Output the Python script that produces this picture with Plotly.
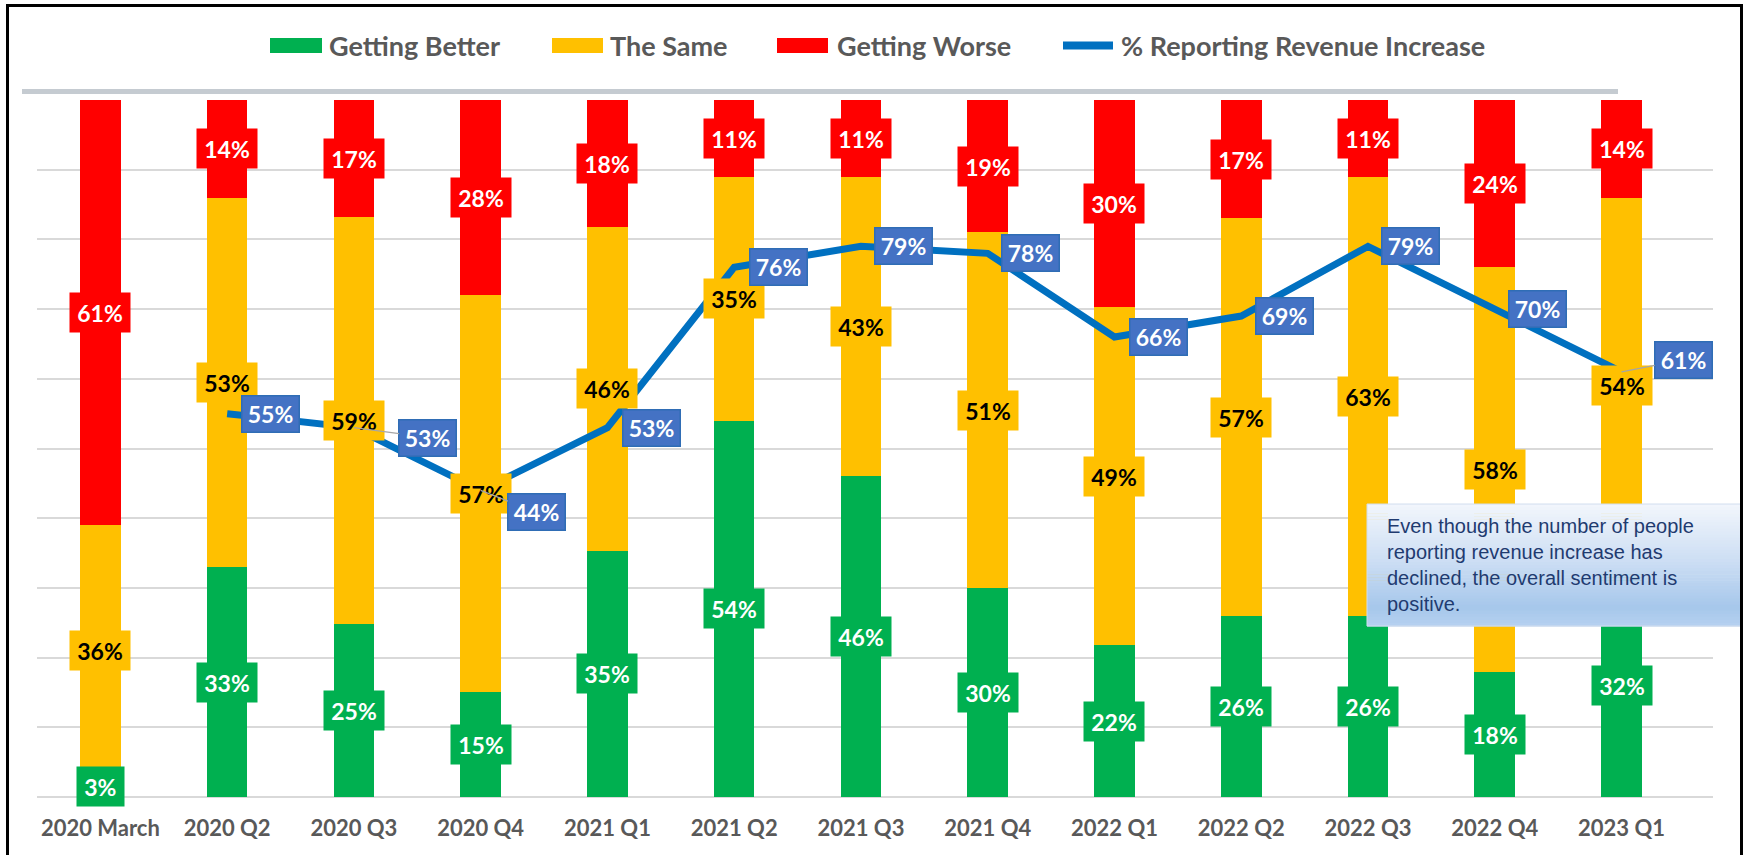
import plotly.graph_objects as go

# ---------------- data ----------------
categories = ["2020 March", "2020 Q2", "2020 Q3", "2020 Q4", "2021 Q1", "2021 Q2",
              "2021 Q3", "2021 Q4", "2022 Q1", "2022 Q2", "2022 Q3", "2022 Q4", "2023 Q1"]
getting_better = [3, 33, 25, 15, 35, 54, 46, 30, 22, 26, 26, 18, 32]
the_same = [36, 53, 59, 57, 46, 35, 43, 51, 49, 57, 63, 58, 54]
getting_worse = [61, 14, 17, 28, 18, 11, 11, 19, 30, 17, 11, 24, 14]
revenue_increase = [None, 55, 53, 44, 53, 76, 79, 78, 66, 69, 79, 70, 61]

series_names = ["Getting Better", "The Same", "Getting Worse"]
line_name = "% Reporting Revenue Increase"
note_text = ("Even though the number of people<br>reporting revenue increase has<br>"
             "declined, the overall sentiment is<br>positive.")

# ---------------- style / layout ----------------
W, H = 1750, 855
ML, MR, MT, MB = 37, 37, 100, 58
PW, PH = W - ML - MR, H - MT - MB

GREEN, YELLOW, RED = "#00B050", "#FFC000", "#FF0000"
LINE_BLUE, LABEL_BLUE = "#0070C0", "#4472C4"
GREY_TXT = "#595959"
FONT = "Lato"
LBL_SIZE = 23

# pixel offsets of the line data labels (layout only)
lbl_dx = [0, 43, 74, 56, 44, 44, 43, 43, 44, 43, 43, 43, 62]
lbl_dy = [0, 0, 10, 22, 0, 0, 0, 0, 0, 0, 0, 0, -12]
lbl_leader = [False, False, True, True, False, False, False, False, False, False, False, False, True]


def px2x(px):
    return (px - ML) / PW


def px2y(py):
    return (H - MB - py) / PH


fig = go.Figure()
colors = [GREEN, YELLOW, RED]
for name, vals, col in zip(series_names, [getting_better, the_same, getting_worse], colors):
    fig.add_trace(go.Bar(x=categories, y=vals, name=name, marker=dict(color=col, line=dict(width=0)),
                         width=0.32, showlegend=False))

fig.add_trace(go.Scatter(x=categories, y=revenue_increase, mode="lines", name=line_name,
                         line=dict(color=LINE_BLUE, width=7), showlegend=False))

annotations = []
# bar segment labels (normalised, as in a 100% stacked chart)
txt_colors = ["white", "black", "white"]
for i, cat in enumerate(categories):
    segs = [getting_better[i], the_same[i], getting_worse[i]]
    tot = sum(segs)
    base = 0.0
    for k, v in enumerate(segs):
        h = v / tot * 100
        mid = base + h / 2
        base += h
        nd = len(str(v))
        annotations.append(dict(
            x=cat, y=mid, xref="x", yref="y", text=f"{v}%", showarrow=False,
            font=dict(family=FONT, size=LBL_SIZE, color=txt_colors[k], weight=700),
            bgcolor=colors[k], borderpad=5, width=LBL_SIZE * (0.58 * nd + 0.82) + 4.5, height=29,
            align="center"))

# line labels
for i, cat in enumerate(categories):
    v = revenue_increase[i]
    if v is None:
        continue
    common = dict(x=cat, y=v, xref="x", yref="y", text=f"{v}%",
                  font=dict(family=FONT, size=LBL_SIZE, color="white", weight=700),
                  bgcolor=LABEL_BLUE, bordercolor="#2F6DB5", borderwidth=1.5, borderpad=4,
                  width=48, height=27, align="center")
    if lbl_leader[i]:
        annotations.append(dict(**common, showarrow=True, arrowhead=0, arrowwidth=1.3,
                                arrowcolor="#A6A6A6", ax=lbl_dx[i], ay=lbl_dy[i]))
    else:
        annotations.append(dict(**common, showarrow=False, xshift=lbl_dx[i], yshift=-lbl_dy[i]))

shapes = []
# custom legend
legend_items = [(series_names[0], GREEN, 270, 322, 327),
                (series_names[1], YELLOW, 552, 603, 608),
                (series_names[2], RED, 777, 828, 835)]
for name, col, x0, x1, tx in legend_items:
    shapes.append(dict(type="rect", xref="paper", yref="paper", x0=px2x(x0), x1=px2x(x1),
                       y0=px2y(53), y1=px2y(38), fillcolor=col, line=dict(width=0)))
    annotations.append(dict(x=px2x(tx), y=px2y(45), xref="paper", yref="paper", text=name,
                            showarrow=False, xanchor="left", yanchor="middle",
                            font=dict(family=FONT, size=27, color=GREY_TXT, weight=700)))
shapes.append(dict(type="line", xref="paper", yref="paper", x0=px2x(1063), x1=px2x(1113),
                   y0=px2y(45.5), y1=px2y(45.5), line=dict(color=LINE_BLUE, width=8)))
annotations.append(dict(x=px2x(1119), y=px2y(45), xref="paper", yref="paper", text=line_name,
                        showarrow=False, xanchor="left", yanchor="middle",
                        font=dict(family=FONT, size=27, color=GREY_TXT, weight=700)))

# grey rule under the legend
shapes.append(dict(type="line", xref="paper", yref="paper", x0=px2x(22), x1=px2x(1618),
                   y0=px2y(91.5), y1=px2y(91.5), line=dict(color="#C5CBD1", width=5)))

# gradient note box
bx0, bx1, by0, by1 = 1367, 1742, 504, 626
stops = [(0.0, (242, 246, 252)), (0.45, (206, 223, 244)), (0.85, (166, 199, 235)), (1.0, (182, 209, 240))]


def grad(t):
    for (t0, c0), (t1, c1) in zip(stops[:-1], stops[1:]):
        if t0 <= t <= t1:
            f = (t - t0) / (t1 - t0)
            return "rgb(%d,%d,%d)" % tuple(round(a + (b - a) * f) for a, b in zip(c0, c1))
    return "rgb(%d,%d,%d)" % stops[-1][1]


nb = 40
for j in range(nb):
    ya = by0 + (by1 - by0) * j / nb
    yb = by0 + (by1 - by0) * (j + 1) / nb + 0.6
    shapes.append(dict(type="rect", xref="paper", yref="paper", x0=px2x(bx0), x1=px2x(bx1),
                       y0=px2y(yb), y1=px2y(ya), fillcolor=grad((j + 0.5) / nb),
                       line=dict(width=0), layer="above"))
shapes.append(dict(type="rect", xref="paper", yref="paper", x0=px2x(bx0), x1=px2x(bx1),
                   y0=px2y(by1), y1=px2y(by0), line=dict(color="#D2DEEE", width=1), layer="above"))
annotations.append(dict(x=px2x(1385), y=px2y(565), xref="paper", yref="paper", text=note_text,
                        showarrow=False, xanchor="left", yanchor="middle", align="left",
                        font=dict(family="Liberation Sans, Arial", size=20, color="#1F3B70")))

# outer frame
shapes.append(dict(type="rect", xref="paper", yref="paper", x0=px2x(7.5), x1=px2x(1741.5),
                   y0=px2y(900), y1=px2y(5.5), line=dict(color="black", width=3), layer="above"))

fig.update_layout(
    width=W, height=H, margin=dict(l=ML, r=MR, t=MT, b=MB),
    barmode="stack", barnorm="percent",
    plot_bgcolor="white", paper_bgcolor="white", showlegend=False,
    annotations=annotations, shapes=shapes,
    xaxis=dict(type="category", showgrid=False, showline=False, ticks="",
               tickfont=dict(family=FONT, size=22, color=GREY_TXT, weight=700),
               ticklabelstandoff=16),
    yaxis=dict(range=[0, 100], dtick=10, showticklabels=False, showgrid=True,
               gridcolor="#D9D9D9", gridwidth=1.5, zeroline=True, zerolinecolor="#D9D9D9",
               zerolinewidth=1.5, showline=False),
)

fig.write_html("out.html", config={"displayModeBar": False},
               post_script="document.body.style.margin='0';document.body.style.overflow='hidden';")
